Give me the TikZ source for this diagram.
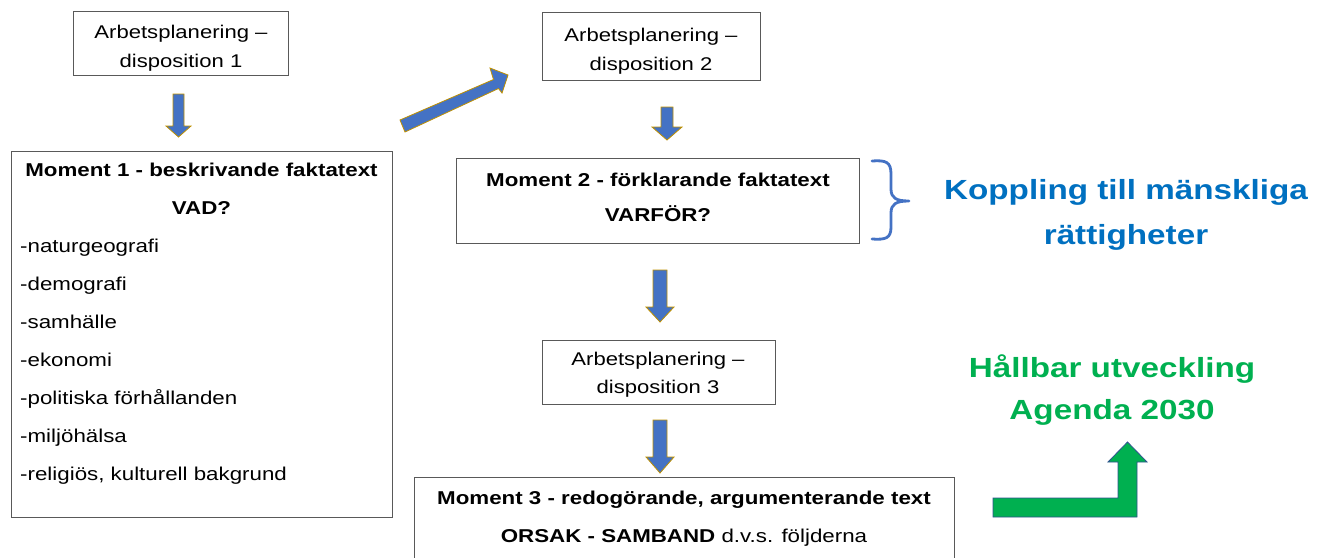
\documentclass[tikz,border=0pt]{standalone}
\usepackage{fontspec}
\setmainfont{Liberation Sans}[FakeStretch=1.2]
\definecolor{arrblue}{HTML}{4472C4}
\definecolor{arrgold}{HTML}{BF9000}
\definecolor{txtblue}{HTML}{0070C0}
\definecolor{txtgreen}{HTML}{00B050}
\definecolor{greenedge}{HTML}{2F528F}
\definecolor{boxedge}{HTML}{595959}
\begin{document}
\begin{tikzpicture}[x=1pt,y=-1pt,
  box/.style={draw=boxedge, line width=1pt, fill=white, inner sep=0pt},
  smalltxt/.style={anchor=base, inner sep=0pt, font=\fontsize{18.4}{22}\selectfont},
  bigtxt/.style={anchor=base, inner sep=0pt, font=\fontsize{18.6}{22}\selectfont},
  bigbold/.style={anchor=base, inner sep=0pt, font=\fontsize{18.6}{22}\selectfont\bfseries},
  listtxt/.style={anchor=base west, inner sep=0pt, font=\fontsize{18.6}{22}\selectfont},
  blockarrow/.style={fill=arrblue, draw=arrgold, line width=0.8pt, line join=miter},
  greenarrow/.style={fill=txtgreen, draw=greenedge, line width=0.8pt, line join=miter},
  headline/.style={anchor=base, inner sep=0pt, font=\fontsize{27.7}{32}\selectfont\bfseries}
]
\useasboundingbox (0,0) rectangle (1325,557);

% boxes
\node[box, minimum width=215pt, minimum height=64pt] (ap1) at (180.5,43) {};
\node[box, minimum width=218pt, minimum height=68pt] (ap2) at (651,46) {};
\node[box, minimum width=233pt, minimum height=64pt] (ap3) at (658.5,372) {};
\node[box, minimum width=381pt, minimum height=366pt] (m1) at (201.5,334) {};
\node[box, minimum width=403pt, minimum height=85pt] (m2) at (657.5,200.5) {};
\node[box, minimum width=540pt, minimum height=100pt] (m3) at (684,527) {};

% texts in Arbetsplanering boxes
\node[smalltxt] (ap1a) at (181,38) {Arbetsplanering –};
\node[smalltxt] (ap1b) at (181,67) {disposition 1};
\node[smalltxt] (ap2a) at (651,41) {Arbetsplanering –};
\node[smalltxt] (ap2b) at (651,70) {disposition 2};
\node[smalltxt] (ap3a) at (658,365) {Arbetsplanering –};
\node[smalltxt] (ap3b) at (658,393) {disposition 3};

% Moment 1
\node[bigbold] (m1t) at (201.5,176) {Moment 1 - beskrivande faktatext};
\node[bigbold] (m1q) at (201.5,214) {VAD?};
\node[listtxt] (l1) at (20,252) {-naturgeografi};
\node[listtxt] (l2) at (20,290) {-demografi};
\node[listtxt] (l3) at (20,328) {-samhälle};
\node[listtxt] (l4) at (20,366) {-ekonomi};
\node[listtxt] (l5) at (20,404) {-politiska förhållanden};
\node[listtxt] (l6) at (20,442) {-miljöhälsa};
\node[listtxt] (l7) at (20,480) {-religiös, kulturell bakgrund};

% Moment 2
\node[bigbold] (m2t) at (658,186) {Moment 2 - förklarande faktatext};
\node[bigbold] (m2q) at (658,221) {VARFÖR?};

% Moment 3
\node[bigbold] (m3t) at (684,504) {Moment 3 - redogörande, argumenterande text};
\node[bigtxt] (m3q) at (684,542) {\textbf{ORSAK - SAMBAND} d.v.s. följderna};

% headlines
\node[headline, text=txtblue] (k1) at (1126,199) {Koppling till mänskliga};
\node[headline, text=txtblue] (k2) at (1126,244) {rättigheter};
\node[headline, text=txtgreen] (h1) at (1112,377) {Hållbar utveckling};
\node[headline, text=txtgreen] (h2) at (1112,419) {Agenda 2030};

% block arrows (down)
\draw[blockarrow] (173,94) -- (184,94) -- (184,126) -- (191,126) -- (178.5,137) -- (166,126) -- (173,126) -- cycle;
\draw[blockarrow] (661,107) -- (673,107) -- (673,127) -- (682,127) -- (667,140) -- (652,127) -- (661,127) -- cycle;
\draw[blockarrow] (653,270) -- (667,270) -- (667,307) -- (674,307) -- (660,322) -- (646,307) -- (653,307) -- cycle;
\draw[blockarrow] (653,420) -- (667,420) -- (667,457) -- (674,457) -- (660,473) -- (646,457) -- (653,457) -- cycle;
% diagonal arrow
\draw[blockarrow] (400,120) -- (493.5,79.5) -- (490,68) -- (508,75) -- (502,93) -- (498.5,88.5) -- (405,132) -- cycle;

% brace
\draw[arrblue, line width=2.8pt, line cap=round, line join=round]
  (872,161) .. controls (886,160) and (891,162) .. (891,174)
  -- (891,189) .. controls (891,198) and (896,201) .. (909,201)
  (909,201) .. controls (896,201) and (891,204) .. (891,213)
  -- (891,227) .. controls (891,238) and (886,240) .. (872,239);

% green bent arrow
\draw[greenarrow] (993,498) -- (1118,498) -- (1118,462) -- (1108,462) -- (1127.5,442) -- (1147,462) -- (1137,462) -- (1137,517) -- (993,517) -- cycle;
\end{tikzpicture}
\end{document}
